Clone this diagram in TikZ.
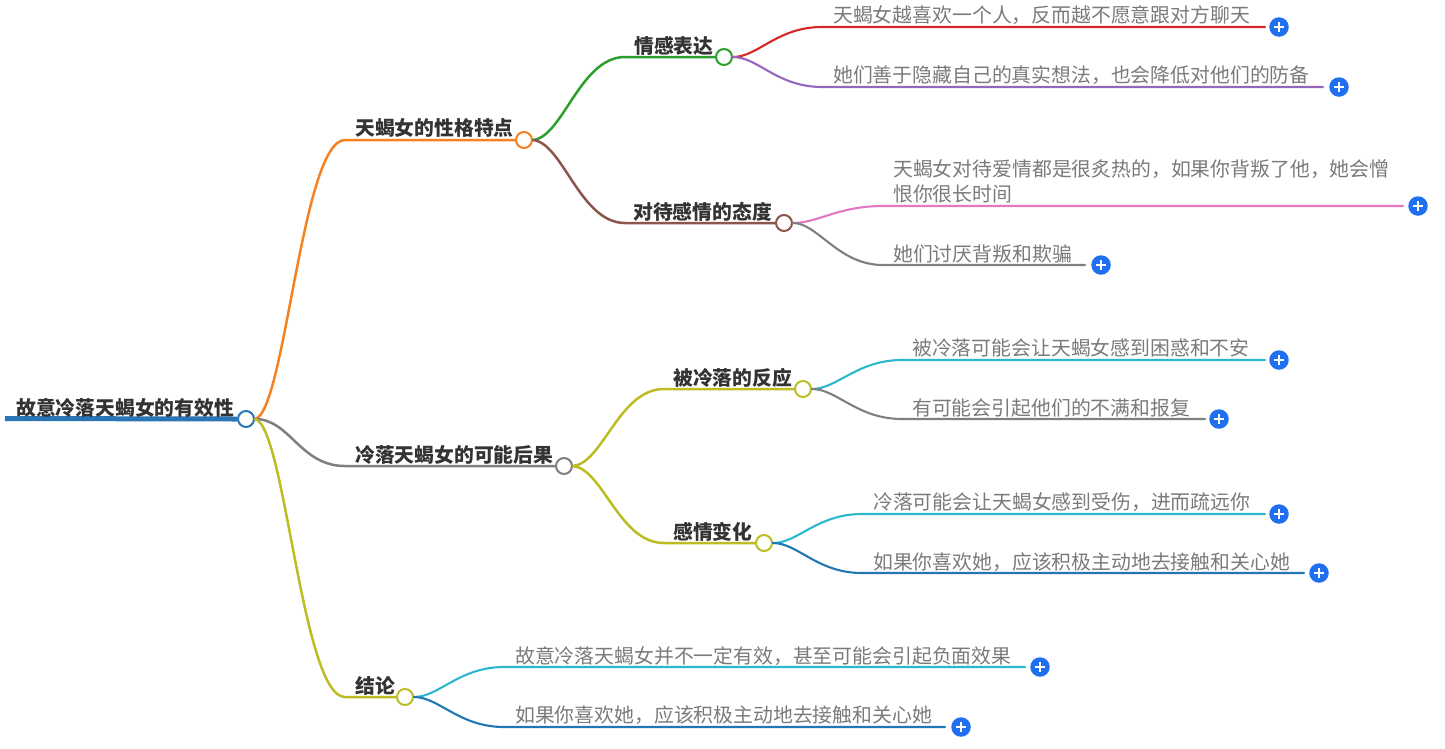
\documentclass[tikz,border=0pt]{standalone}
\usepackage{fontspec}
\setmainfont{Noto Sans CJK SC}
\usetikzlibrary{calc}
\definecolor{cRoot}{HTML}{2A75B5}
\definecolor{cOrange}{HTML}{F5821F}
\definecolor{cGrey}{HTML}{7F7F7F}
\definecolor{cOlive}{HTML}{BCBD22}
\definecolor{cGreen}{HTML}{2CA02C}
\definecolor{cBrown}{HTML}{8C564B}
\definecolor{cRed}{HTML}{D62728}
\definecolor{cPurple}{HTML}{9467BD}
\definecolor{cPink}{HTML}{E377C2}
\definecolor{cCyan}{HTML}{2BB8CC}
\definecolor{cBlue}{HTML}{1F77B4}
\definecolor{cPlus}{HTML}{1F6FF0}
\tikzset{
  x=1pt,y=-1pt,
  dot/.style={circle,draw=#1,fill=white,line width=2pt,minimum size=16pt,inner sep=0pt},
  conn/.style={draw=#1,line width=2.5pt,line cap=round},
  leafconn/.style={draw=#1,line width=2.1pt,line cap=round},
  plusbtn/.style={circle,fill=cPlus,minimum size=19.5pt,inner sep=0pt,
    path picture={\draw[white,line width=1.9pt]
      ($(path picture bounding box.center)+(-5,0)$)--($(path picture bounding box.center)+(5,0)$)
      ($(path picture bounding box.center)+(0,-5)$)--($(path picture bounding box.center)+(0,5)$);}},
  head/.style={anchor=base west,inner sep=0pt,text=black!80,font=\fontsize{19.8}{25}\selectfont\bfseries},
  leaf/.style={anchor=base west,inner sep=0pt,text=black!52,font=\fontsize{19.85}{25}\selectfont},
}
\begin{document}
\begin{tikzpicture}
\useasboundingbox (0,0) rectangle (1445,748);
% coordinates of line starts and ends
\coordinate (r0) at (5,418.5);
\foreach \n/\x/\y in {b1s/345/140,b2s/345/466,b3s/345/697,
  c1s/625/57,c2s/625/223,c3s/664/389,c4s/664/543,
  a1s/822/27,a1e/1265/27,a2s/822/87,a2e/1323/87,
  a3s/883/206,a3e/1403/206,a4s/883/265,a4e/1085/265,
  a5s/902/360,a5e/1265/360,a6s/902/419,a6e/1205/419,
  a7s/862/514,a7e/1265/514,a8s/862/573,a8e/1304/573,
  a9s/504/667,a9e/1025/667,a10s/504/727,a10e/945/727}
  {\coordinate (\n) at (\x,\y);}
% circles
\node[dot=cRoot] (r) at (246,419) {};
\node[dot=cOrange] (b1) at (524,140) {};
\node[dot=cGrey] (b2) at (564,466) {};
\node[dot=cOlive] (b3) at (405,697) {};
\node[dot=cGreen] (c1) at (724,57) {};
\node[dot=cBrown] (c2) at (784,223) {};
\node[dot=cOlive] (c3) at (803,389) {};
\node[dot=cOlive] (c4) at (764,543) {};
% connectors
\draw[conn=cRoot,line width=5pt,line cap=butt] (r0) -- (r.west);
\draw[conn=cOrange] (r.east) .. controls +(30,-6) and ($(b1s)+(-43,0)$) .. (b1s) -- (b1.west);
\draw[conn=cGrey] (r.east) .. controls +(35,0) and ($(b2s)+(-45,0)$) .. (b2s) -- (b2.west);
\draw[conn=cOlive] (r.east) .. controls +(30,6) and ($(b3s)+(-43,0)$) .. (b3s) -- (b3.west);
\draw[conn=cGreen] (b1.east) .. controls +(30,-3) and ($(c1s)+(-45,0)$) .. (c1s) -- (c1.west);
\draw[conn=cBrown] (b1.east) .. controls +(30,3) and ($(c2s)+(-45,0)$) .. (c2s) -- (c2.west);
\draw[conn=cOlive] (b2.east) .. controls +(30,-3) and ($(c3s)+(-45,0)$) .. (c3s) -- (c3.west);
\draw[conn=cOlive] (b2.east) .. controls +(30,3) and ($(c4s)+(-45,0)$) .. (c4s) -- (c4.west);
% leaf connectors
\newcommand{\leafline}[4]{\draw[leafconn=#4] (#1.east) .. controls +(25,0) and ($(#2)+(-45,0)$) .. (#2) -- (#3);}
\leafline{c1}{a1s}{a1e}{cRed}
\leafline{c1}{a2s}{a2e}{cPurple}
\leafline{c2}{a3s}{a3e}{cPink}
\leafline{c2}{a4s}{a4e}{cGrey}
\leafline{c3}{a5s}{a5e}{cCyan}
\leafline{c3}{a6s}{a6e}{cGrey}
\leafline{c4}{a7s}{a7e}{cCyan}
\leafline{c4}{a8s}{a8e}{cBlue}
\leafline{b3}{a9s}{a9e}{cCyan}
\leafline{b3}{a10s}{a10e}{cBlue}
% headings
\node[head] (t0) at (16,415) {故意冷落天蝎女的有效性};
\node[head] (t1) at (355,135.5) {天蝎女的性格特点};
\node[head] (t2) at (355,462.5) {冷落天蝎女的可能后果};
\node[head] (t3) at (355,693.5) {结论};
\node[head] (t4) at (634,53.5) {情感表达};
\node[head] (t5) at (633,219.5) {对待感情的态度};
\node[head] (t6) at (673,385.5) {被冷落的反应};
\node[head] (t7) at (673,539.5) {感情变化};
% leaves
\node[leaf] (l1) at (833,22.5) {天蝎女越喜欢一个人，反而越不愿意跟对方聊天};
\node[leaf] (l2) at (833,82.5) {她们善于隐藏自己的真实想法，也会降低对他们的防备};
\node[leaf] (l3a) at (893,176.5) {天蝎女对待爱情都是很炙热的，如果你背叛了他，她会憎};
\node[leaf] (l3b) at (893,201.5) {恨你很长时间};
\node[leaf] (l4) at (893,261.5) {她们讨厌背叛和欺骗};
\node[leaf] (l5) at (912,355.5) {被冷落可能会让天蝎女感到困惑和不安};
\node[leaf] (l6) at (912,415.5) {有可能会引起他们的不满和报复};
\node[leaf] (l7) at (873,509.5) {冷落可能会让天蝎女感到受伤，进而疏远你};
\node[leaf] (l8) at (873,569.5) {如果你喜欢她，应该积极主动地去接触和关心她};
\node[leaf] (l9) at (515,663.5) {故意冷落天蝎女并不一定有效，甚至可能会引起负面效果};
\node[leaf] (l10) at (515,722.5) {如果你喜欢她，应该积极主动地去接触和关心她};
% plus buttons
\node[plusbtn] (p1) at (1279,27) {};
\node[plusbtn] (p2) at (1339,87) {};
\node[plusbtn] (p3) at (1418,206) {};
\node[plusbtn] (p4) at (1101,265) {};
\node[plusbtn] (p5) at (1279,360) {};
\node[plusbtn] (p6) at (1219,419) {};
\node[plusbtn] (p7) at (1279,514) {};
\node[plusbtn] (p8) at (1319,573) {};
\node[plusbtn] (p9) at (1040,667) {};
\node[plusbtn] (p10) at (961,727) {};
\end{tikzpicture}
\end{document}
